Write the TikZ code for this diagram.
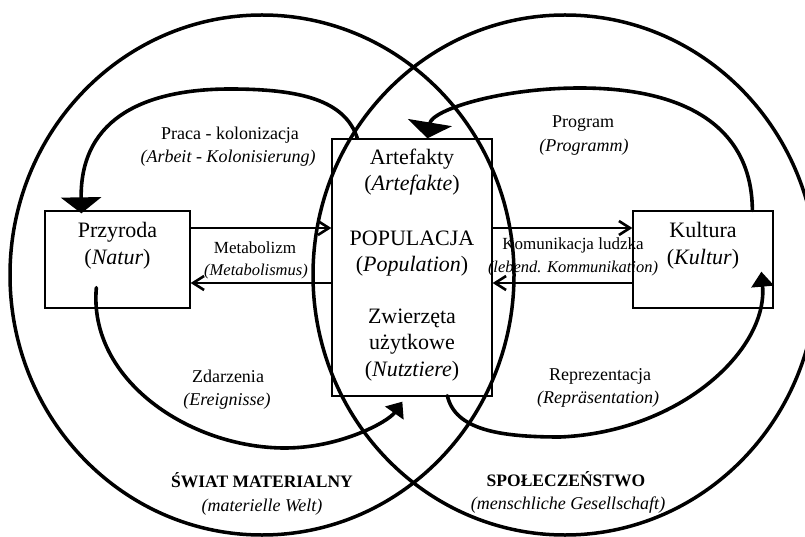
\documentclass[tikz,border=0pt]{standalone}
\usepackage{fontspec}
\setmainfont{Liberation Serif}
\usetikzlibrary{arrows.meta,calc}
\begin{document}
\begin{tikzpicture}[x=1pt,y=-1pt,
  ring/.style={line width=3.5pt},
  box/.style={draw, line width=1.3pt, inner sep=0pt},
  flow/.style={line width=2.6pt, -{Straight Barb[length=11pt,width=14pt]}},
  loop/.style={line width=3.6pt, line cap=round},
  boxtxt/.style={font=\fontsize{22}{26}\selectfont, anchor=base, inner sep=0pt},
  lbl/.style={font=\fontsize{18}{21}\selectfont, anchor=base, inner sep=0pt},
  lblit/.style={lbl, font=\fontsize{18}{21}\selectfont\itshape},
  kom/.style={lbl, font=\fontsize{17}{20}\selectfont},
  komit/.style={lbl, font=\fontsize{16.5}{20}\selectfont\itshape},
  area/.style={lbl, font=\fontsize{17.5}{21}\selectfont\bfseries},
]
\useasboundingbox (0,0) rectangle (805,537);

% boxes
\node[box, minimum width=145pt, minimum height=97pt] (przy) at (117.5,259.5) {};
\node[box, minimum width=160pt, minimum height=257pt] (pop) at (412,267.5) {};
\node[box, minimum width=140pt, minimum height=97pt] (kult) at (703,259.5) {};

% box texts
\node[boxtxt] (przyA) at (117.5,238) {Przyroda};
\node[boxtxt] (przyB) at (117.5,265) {(\textit{Natur})};
\node[boxtxt] (popA) at (412,165) {Artefakty};
\node[boxtxt] (popB) at (412,191) {(\textit{Artefakte})};
\node[boxtxt] (popC) at (412,245) {POPULACJA};
\node[boxtxt] (popD) at (412,271) {(\textit{Population})};
\node[boxtxt] (popE) at (412,323) {Zwierzęta};
\node[boxtxt] (popF) at (412,349) {użytkowe};
\node[boxtxt] (popG) at (412,376) {(\textit{Nutztiere})};
\node[boxtxt] (kultA) at (703,238) {Kultura};
\node[boxtxt] (kultB) at (703,265) {(\textit{Kultur})};

% flow labels
\node[lbl] (pracaA) at (230,140) {Praca - kolonizacja};
\node[lblit] (pracaB) at (228,163) {(Arbeit - Kolonisierung)};
\node[kom] (metaA) at (255,253) {Metabolizm};
\node[komit] (metaB) at (256,275) {(Metabolismus)};
\node[kom] (komA) at (573,250) {Komunikacja ludzka};
\node[komit] (komB) at (573,272) {(lebend. Kommunikation)};
\node[lbl] (progA) at (583,128) {Program};
\node[lblit] (progB) at (584,152) {(Programm)};
\node[lbl] (zdA) at (228,382) {Zdarzenia};
\node[lblit] (zdB) at (227,405) {(Ereignisse)};
\node[lbl] (repA) at (600,380) {Reprezentacja};
\node[lblit] (repB) at (598,403) {(Repräsentation)};

% area labels
\node[area] (swA) at (262,487) {ŚWIAT MATERIALNY};
\node[lblit] (swB) at (262,511) {(materielle Welt)};
\node[area] (spA) at (566,486) {SPOŁECZEŃSTWO};
\node[lblit] (spB) at (568,509) {(menschliche Gesellschaft)};

% straight exchanges
\draw[flow] (przy.east |- 0,228) -- (pop.west |- 0,228);
\draw[flow] (pop.west |- 0,283) -- (przy.east |- 0,283);
\draw[flow] (pop.east |- 0,228) -- (kult.west |- 0,228);
\draw[flow] (kult.west |- 0,283) -- (pop.east |- 0,283);

% the two spheres
\draw[ring] (262,275) ellipse [x radius=252pt, y radius=260pt];
\draw[ring] (565,275) ellipse [x radius=252pt, y radius=260pt];

% curved loops
\draw[loop, -{Triangle[width=40pt,length=16pt]}]
  ($(pop.north west)+(26,0)$) .. controls (345,100) and (300,89) .. (230,89)
  .. controls (150,89) and (80,115) .. ($(przy.north west)+(37,3)$);
\draw[loop, -{Triangle[width=44pt,length=16pt]}]
  ($(kult.north west)+(120,0)$) .. controls (752,130) and (690,88) .. (580,88)
  .. controls (500,88) and (432,110) .. ($(pop.north west)+(96,0)$);
\draw[loop, -{Triangle[width=22pt,length=14pt]}]
  ($(przy.south west)+(52,-21)$) .. controls (88,380) and (190,448) .. (285,448)
  .. controls (340,448) and (388,422) .. ($(pop.south west)+(71,5)$);
\draw[loop, -{Triangle[width=22pt,length=15pt]}]
  ($(pop.south west)+(116,-1)$) .. controls (455,430) and (500,437) .. (560,437)
  .. controls (680,432) and (768,350) .. ($(kult.south west)+(129,-37)$);
\end{tikzpicture}
\end{document}
